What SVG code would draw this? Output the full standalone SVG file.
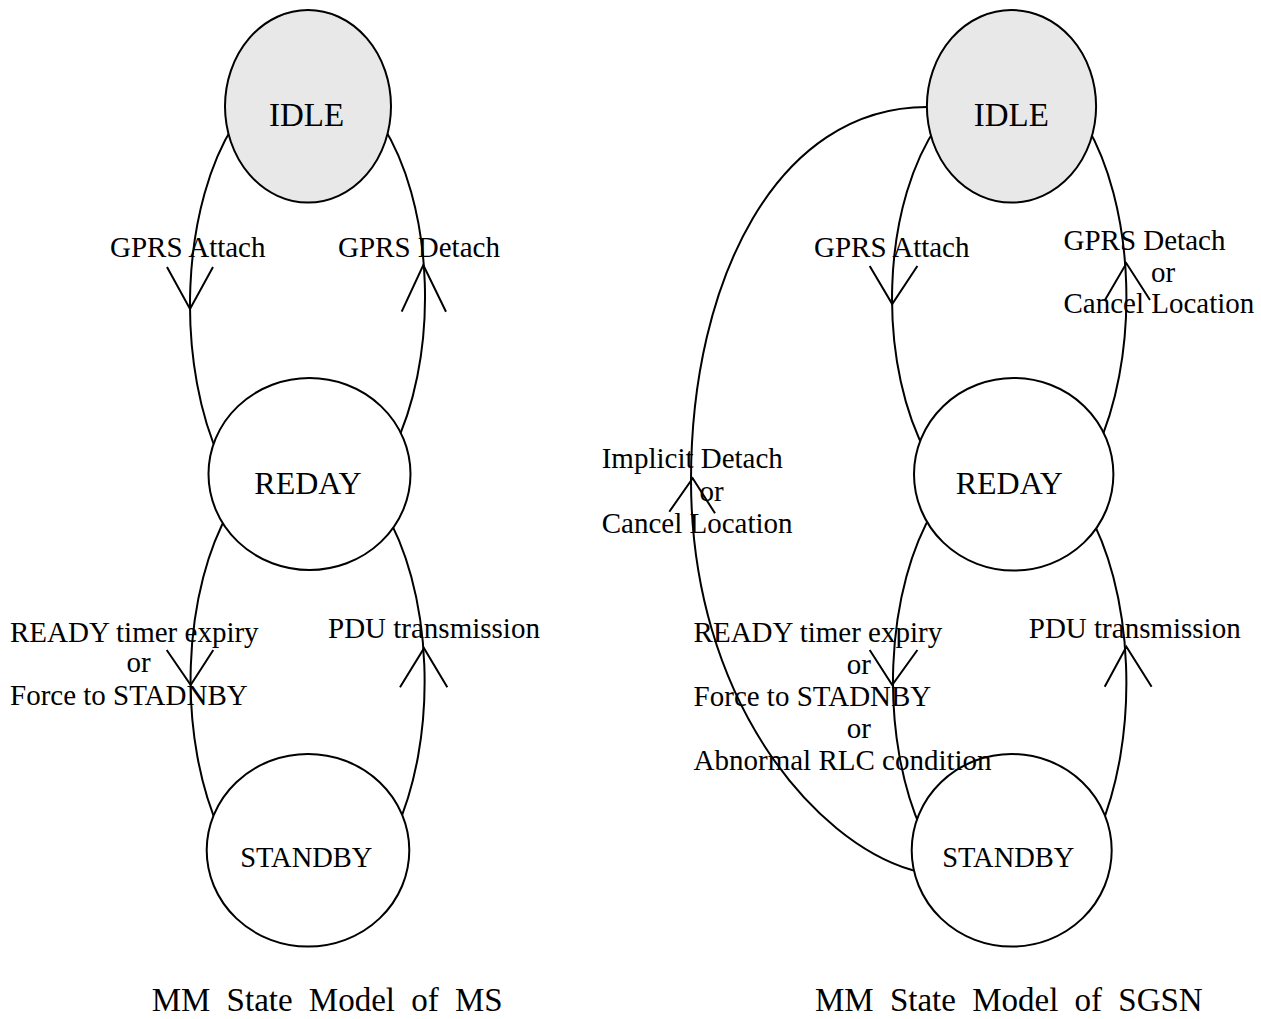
<svg xmlns="http://www.w3.org/2000/svg" width="1261" height="1019" viewBox="0 0 1261 1019">
  <style>
    .edge { fill: none; stroke: #000; stroke-width: 2; }
    .head { fill: none; stroke: #000; stroke-width: 2; stroke-linejoin: miter; }
    .state { fill: #fff; stroke: #000; stroke-width: 2; }
    .state.idle { fill: #e8e8e8; }
    text { font-family: "Liberation Serif", "Times New Roman", serif; fill: #000; }
    .sname { font-size: 32px; text-anchor: middle; }
    .sname.big { font-size: 33px; }
    .sname.small { font-size: 28.5px; }
    .lbl { font-size: 29px; }
    .mid { text-anchor: middle; }
    .caption { font-size: 33px; word-spacing: 8px; }
  </style>

  <rect width="1261" height="1019" fill="#fff"/>

  <!-- transitions (drawn first, state fills hide the ends) -->
  <g id="connectors">
    <!-- MS model -->
    <path id="ms-attach" class="edge" d="M 233.8 125 A 117.5 231 0 0 0 220.4 460"/>
    <polyline class="head" points="167,267 190,309 213,267"/>
    <path id="ms-detach" class="edge" d="M 382.3 125 A 117.5 223 0 0 1 393 450"/>
    <polyline class="head" points="401.7,311.7 423.3,265 446,311.7"/>
    <path id="ms-to-standby" class="edge" d="M 229.9 510 A 117 227.6 0 0 0 219.5 830"/>
    <polyline class="head" points="166.7,650 190.7,685 213.3,650"/>
    <path id="ms-pdu" class="edge" d="M 383.8 510 A 117 226.1 0 0 1 395.9 830"/>
    <polyline class="head" points="400,687.3 424,648.3 447.3,687.3"/>

    <!-- SGSN model -->
    <path id="sgsn-attach" class="edge" d="M 937.8 125 A 117.2 219 0 0 0 927.2 455"/>
    <polyline class="head" points="869.7,266 892.2,304 917.4,266"/>
    <path id="sgsn-detach" class="edge" d="M 1086.1 125 A 117.2 228.3 0 0 1 1096.3 450"/>
    <polyline class="head" points="1105,300 1126.4,263.3 1150,300"/>
    <path id="sgsn-to-standby" class="edge" d="M 933.8 510 A 116.7 226.2 0 0 0 921.5 830"/>
    <polyline class="head" points="869.7,650 892.2,685 917.4,650"/>
    <path id="sgsn-pdu" class="edge" d="M 1086.8 510 A 116.7 230.4 0 0 1 1099.5 830"/>
    <polyline class="head" points="1104.7,686.7 1126.4,646.7 1151.6,686.7"/>
    <path id="sgsn-implicit-detach" class="edge" d="M 940 107 L 927 107 C 777 107 691 280 691 480 C 691 700 815 842 912 870 L 925 873"/>
    <polyline class="head" points="669.3,511.7 692.7,478.3 715,513.3"/>
  </g>

  <!-- MS states -->
  <g id="ms-idle">
    <ellipse class="state idle" cx="308" cy="106.3" rx="83" ry="96.3"/>
    <text class="sname big" x="306.5" y="126">IDLE</text>
  </g>
  <g id="ms-ready">
    <ellipse class="state" cx="309.5" cy="474" rx="101" ry="96"/>
    <text class="sname" x="308" y="494">REDAY</text>
  </g>
  <g id="ms-standby">
    <ellipse class="state" cx="308" cy="850.3" rx="101.3" ry="96.3"/>
    <text class="sname small" x="306.3" y="866.7">STANDBY</text>
  </g>

  <!-- SGSN states -->
  <g id="sgsn-idle">
    <ellipse class="state idle" cx="1011.5" cy="106.3" rx="84.6" ry="96.3"/>
    <text class="sname big" x="1011.3" y="126">IDLE</text>
  </g>
  <g id="sgsn-ready">
    <ellipse class="state" cx="1013.7" cy="474.3" rx="99.7" ry="96.3"/>
    <text class="sname" x="1009.3" y="494">REDAY</text>
  </g>
  <g id="sgsn-standby">
    <ellipse class="state" cx="1011.7" cy="850.3" rx="100" ry="96.3"/>
    <text class="sname small" x="1008.3" y="866.7">STANDBY</text>
  </g>

  <!-- transition labels -->
  <g id="edge-labels" class="lbl">
    <text class="lbl" x="110" y="257">GPRS Attach</text>
    <text class="lbl" x="338" y="257">GPRS Detach</text>
    <text class="lbl" x="10" y="642">READY timer expiry</text>
    <text class="lbl mid" x="138.5" y="672">or</text>
    <text class="lbl" x="10" y="705">Force to STADNBY</text>
    <text class="lbl" x="328" y="638">PDU transmission</text>

    <text class="lbl" x="814" y="257">GPRS Attach</text>
    <text class="lbl" x="1063.5" y="249.5">GPRS Detach</text>
    <text class="lbl mid" x="1163" y="281.7">or</text>
    <text class="lbl" x="1063.5" y="313.3">Cancel Location</text>
    <text class="lbl" x="601.7" y="468.3">Implicit Detach</text>
    <text class="lbl mid" x="711.7" y="501">or</text>
    <text class="lbl" x="601.7" y="532.7">Cancel Location</text>
    <text class="lbl" x="693.6" y="641.7">READY timer expiry</text>
    <text class="lbl mid" x="858.8" y="674">or</text>
    <text class="lbl" x="693.6" y="706">Force to STADNBY</text>
    <text class="lbl mid" x="858.8" y="738.3">or</text>
    <text class="lbl" x="693.6" y="770">Abnormal RLC condition</text>
    <text class="lbl" x="1028.8" y="638.3">PDU transmission</text>
  </g>

  <!-- captions -->
  <text class="caption" x="151.7" y="1011">MM State Model of MS</text>
  <text class="caption" x="815" y="1011">MM State Model of SGSN</text>
</svg>
